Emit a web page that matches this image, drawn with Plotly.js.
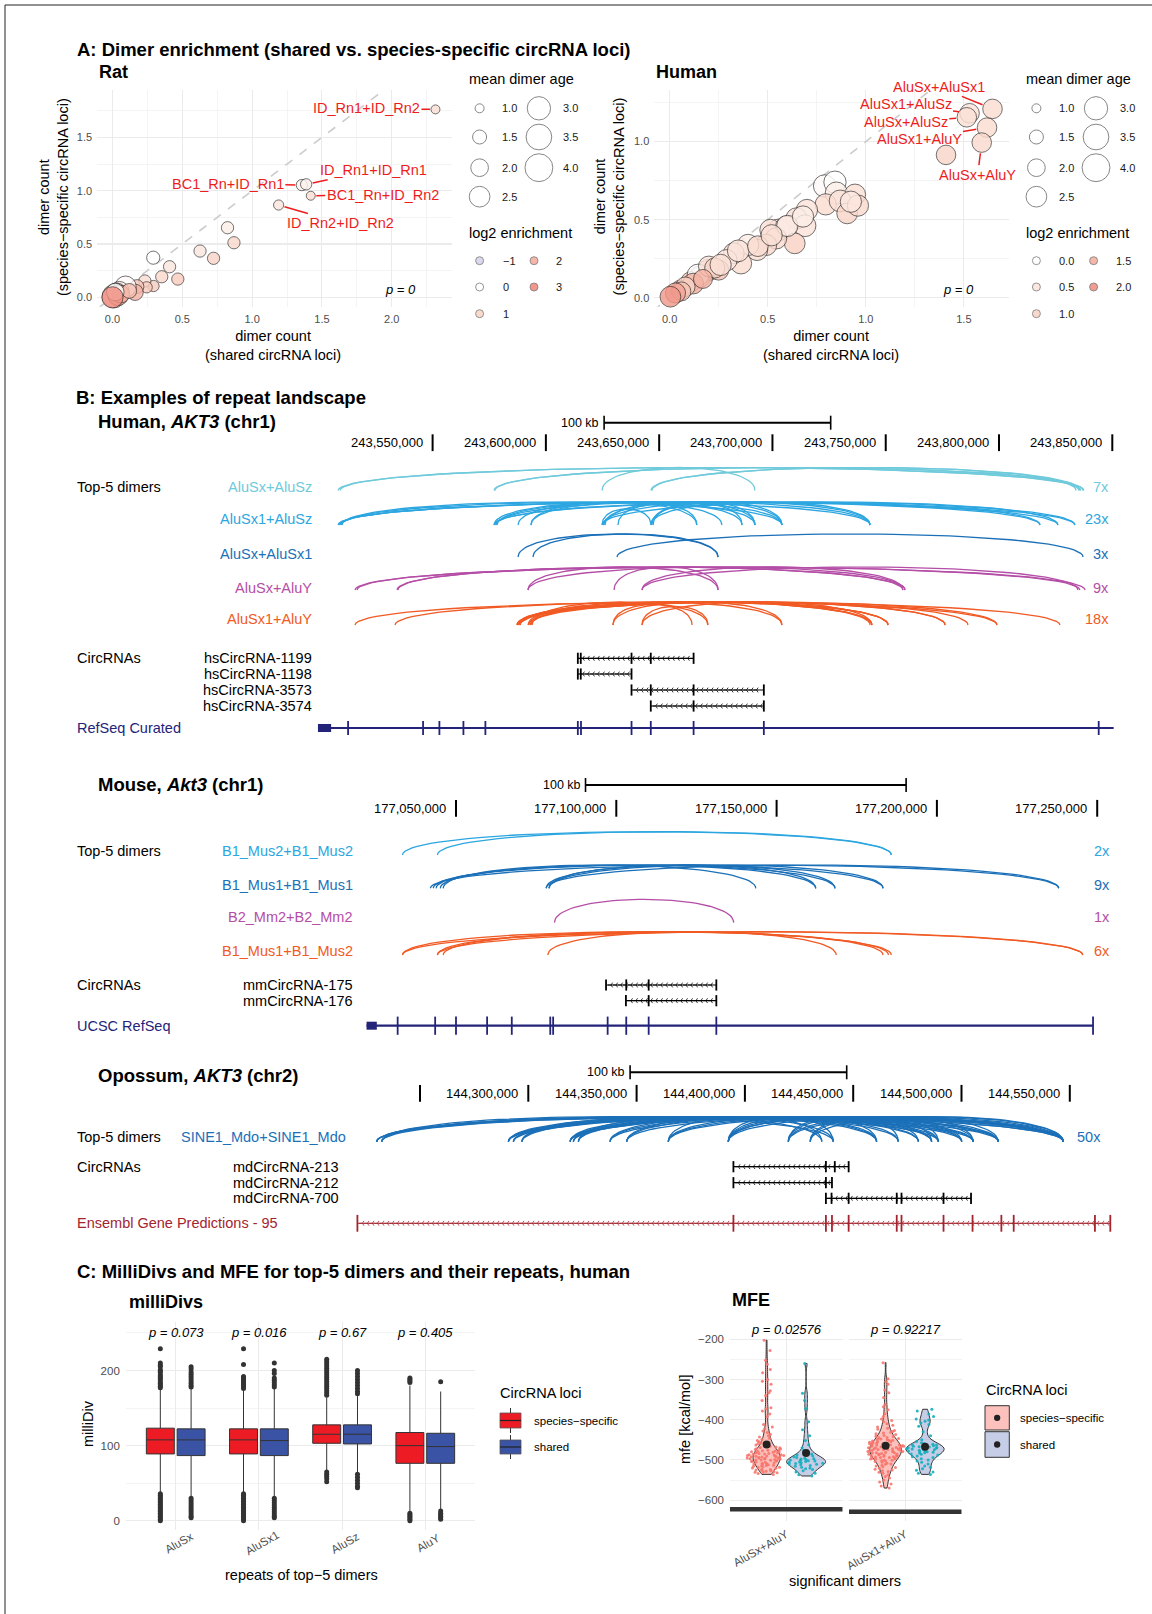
<!DOCTYPE html>
<html><head><meta charset="utf-8">
<script src="https://cdn.plot.ly/plotly-3.0.1.min.js"></script>
<style>html,body{margin:0;padding:0;background:#fff}#plot{width:1152px;height:1614px}</style>
</head><body><div id="plot"></div>
<script>
// ================= DATA =================
// ---- Panel A: Rat ----
const ratNames = ['ID_Rn1+ID_Rn2','BC1_Rn+ID_Rn1','ID_Rn1+ID_Rn1','BC1_Rn+ID_Rn2','ID_Rn2+ID_Rn2'];
const ratShared   = [2.313,1.356,1.387,1.420,1.190,0.824,0.870,0.627,0.724,0.292,0.409,0.353,0.468,0.294,0.232,0.245,0.175,0.162,0.094,0.050,0.030,0.020,0.010,0.040,0.060,0.120,0.020,0.000];
const ratSpecific = [1.763,1.053,1.060,0.953,0.866,0.653,0.512,0.434,0.366,0.372,0.287,0.193,0.171,0.106,0.153,0.094,0.100,0.047,0.100,0.060,0.040,0.020,0.010,0.020,0.030,0.060,0.050,0.000];
const ratAge      = [1.0,1.2,1.2,1.0,1.1,1.3,1.3,1.3,1.3,1.4,1.3,1.3,1.3,1.2,1.3,1.2,1.5,1.8,2.6,2.2,2.4,2.8,3.0,2.5,2.0,1.6,2.0,2.6];
const ratLog2     = [0.8,0.3,0.3,0.8,0.6,0.4,0.9,0.6,1.0,0.0,0.6,0.9,1.2,1.2,0.8,1.2,1.3,1.8,0.1,0.5,0.3,1.0,0.4,1.5,2.0,1.5,0.0,2.8];
const ratP = '0';
// ---- Panel A: Human ----
const humanNames = ['AluSx+AluSx1','AluSx1+AluSz','AluSx+AluSz','AluSx1+AluY','AluSx+AluY'];
const humanShared   = [1.646,1.529,1.515,1.618,1.591,1.409,0.790,0.843,0.850,0.945,0.796,0.869,0.905,0.960,0.924,0.700,0.647,0.690,0.556,0.514,0.594,0.638,0.543,0.492,0.446,0.400,0.364,0.327,0.290,0.199,0.250,0.154,0.109,0.055,0.145,0.200,0.230,0.120,0.080,0.060,0.170,0.260,0.350,0.450,0.600,0.520,0.680,0.030,0.004];
const humanSpecific = [1.210,1.182,1.156,1.090,0.994,0.915,0.716,0.740,0.670,0.660,0.598,0.620,0.540,0.590,0.615,0.562,0.508,0.461,0.434,0.434,0.455,0.348,0.380,0.338,0.306,0.338,0.220,0.285,0.240,0.177,0.177,0.134,0.102,0.049,0.145,0.200,0.190,0.090,0.070,0.040,0.120,0.210,0.300,0.330,0.460,0.400,0.520,0.030,0.006];
const humanAge      = [2.3,2.3,2.3,2.3,2.3,2.3,2.8,2.8,2.8,2.6,2.6,2.7,2.5,2.6,2.6,2.6,2.6,2.7,2.7,2.6,2.6,2.5,2.6,2.6,2.6,2.6,2.6,2.5,2.6,2.6,2.4,2.6,2.4,2.3,2.7,2.5,2.4,2.5,2.3,2.2,2.2,2.6,2.7,2.5,2.6,2.6,2.6,2.4,2.5];
const humanLog2     = [0.7,0.5,0.6,0.7,0.8,0.9,0.1,0.0,0.3,0.6,0.7,0.6,0.9,0.8,0.4,0.5,0.6,0.5,0.4,0.6,0.3,1.0,0.7,0.8,0.6,0.3,0.7,0.5,0.4,0.9,1.2,0.8,1.1,1.3,0.0,0.5,1.0,1.4,1.0,1.2,1.4,0.6,0.5,0.7,0.4,0.6,0.3,1.6,1.8];
const humanP = '0';
const ageLegend = [1.0,1.5,2.0,2.5,3.0,3.5,4.0];
const ratLog2Legend = [-1,0,1,2,3];
const humanLog2Legend = [0.0,0.5,1.0,1.5,2.0];

// ---- Panel B: Human AKT3 ----
const hsTicks = [243550000,243600000,243650000,243700000,243750000,243800000,243850000];
const hsScaleStart = 243625700;
const hsDimers = ['AluSx+AluSz','AluSx1+AluSz','AluSx+AluSx1','AluSx+AluY','AluSx1+AluY'];
const hsArcs_AluSx_AluSz = [[243508250,243836200],[243509100,243837500],[243577100,243835300],[243577500,243837100],[243624800,243692300],[243646800,243834000],[243646400,243835700]];
const hsArcs_AluSx1_AluSz = [[243508250,243833500],[243508700,243826000],[243509100,243818100],[243509600,243743100],[243510000,243704200],[243577100,243833500],[243577500,243818100],[243578000,243743100],[243578400,243704200],[243577100,243692300],[243587700,243677700],[243593400,243686600],[243593400,243666600],[243624800,243646400],[243625200,243743100],[243625600,243704200],[243626100,243692300],[243631800,243666600],[243646400,243704200],[243646800,243692300],[243647300,243686600],[243646400,243743100],[243624800,243826000]];
const hsArcs_AluSx_AluSx1 = [[243587700,243676000],[243594300,243676000],[243631400,243837100]];
const hsArcs_AluSx_AluY = [[243515750,243838000],[243516600,243835700],[243534300,243758500],[243534700,243757600],[243592100,243758500],[243592100,243676000],[243630100,243676000],[243642400,243834800],[243642400,243757600]];
const hsArcs_AluSx1_AluY = [[243515750,243826900],[243533400,243799100],[243587250,243743900],[243587700,243751000],[243588100,243776200],[243588600,243786300],[243587250,243799100],[243587700,243743100],[243592100,243704200],[243592500,243751000],[243593400,243743900],[243593900,243671500],[243629600,243664500],[243629600,243704200],[243642400,243671500],[243642400,243743900],[243588600,243751000],[243593000,243776200]];
const hsCircNames = ['hsCircRNA-1199','hsCircRNA-1198','hsCircRNA-3573','hsCircRNA-3574'];
const hsCircExons = [[243614100,243615400,243637800,243646300,243665200],[243614100,243615400,243637800],[243637800,243646300,243665200,243696200],[243646300,243665200,243696200]];
const hsGeneSpan = [243499400,243850600];
const hsGeneUTR = [243499400,243505200];
const hsGeneExons = [243512700,243545800,243553000,243563600,243573300,243614100,243615500,243637800,243646300,243665200,243696200,243844000];

// ---- Panel B: Mouse Akt3 ----
const mmTicks = [177050000,177100000,177150000,177200000,177250000];
const mmScaleStart = 177090400;
const mmDimers = ['B1_Mus2+B1_Mus2','B1_Mus1+B1_Mus1','B2_Mm2+B2_Mm2','B1_Mus1+B1_Mus2'];
const mmArcs_B1Mus2_B1Mus2 = [[177033300,177185800],[177044200,177185800]];
const mmArcs_B1Mus1_B1Mus1 = [[177042000,177238000],[177042900,177183200],[177043800,177168200],[177045100,177162200],[177046000,177143500],[177078100,177238000],[177079000,177183200],[177078100,177168200],[177079000,177162200]];
const mmArcs_B2Mm2_B2Mm2 = [[177080700,177136600]];
const mmArcs_B1Mus1_B1Mus2 = [[177033300,177245500],[177033300,177185800],[177044200,177184900],[177046000,177183200],[177078600,177168600],[177044200,177245500]];
const mmCircNames = ['mmCircRNA-175','mmCircRNA-176'];
const mmCircExons = [[177096800,177103100,177110100,177131200],[177103000,177110100,177131200]];
const mmGeneSpan = [177022100,177248700];
const mmGeneUTR = [177022100,177025300];
const mmGeneExons = [177031800,177043500,177050000,177059700,177067400,177079400,177080300,177097300,177103100,177110100,177131200,177248700];

// ---- Panel B: Opossum AKT3 ----
const mdTicks = [144250000,144300000,144350000,144400000,144450000,144500000,144550000];
const mdTickLabels = ['','144,300,000','144,350,000','144,400,000','144,450,000','144,500,000','144,550,000'];
const mdScaleStart = 144347000;
const mdDimers = ['SINE1_Mdo+SINE1_Mdo'];
const mdArcs_SINE1_SINE1 = [
 [144230000,144547000],[144230000,144517000],[144230000,144505400],[144230000,144500100],
 [144232300,144547000],[144232300,144489300],[144232300,144440800],
 [144290800,144547000],[144290800,144517000],[144290800,144486200],[144290800,144460800],
 [144293100,144547000],[144293100,144505400],[144293100,144480100],
 [144297000,144500100],[144297000,144470800],[144297000,144435500],
 [144319300,144547000],[144319300,144517000],[144319300,144489300],[144319300,144460800],
 [144320800,144547000],[144320800,144505400],[144320800,144486200],
 [144323100,144517000],[144323100,144480100],[144323100,144440800],
 [144337700,144547000],[144337700,144500100],[144337700,144470800],
 [144345400,144547000],[144345400,144486200],[144345400,144460800],
 [144364600,144547000],[144364600,144517000],[144364600,144489300],[144364600,144435500],
 [144392300,144547000],[144392300,144505400],[144392300,144500100],[144392300,144480100],[144392300,144460800],[144392300,144440800],
 [144420000,144547000],[144420000,144517000],[144420000,144486200],[144420000,144470800],
 [144430100,144547000],[144430100,144505400],[144430100,144489300]];
const mdCircNames = ['mdCircRNA-213','mdCircRNA-212','mdCircRNA-700'];
const mdCircExons = [[144394700,144437400,144441500,144447900],[144394700,144437400,144440200],[144437400,144440000,144447900,144470100,144472300,144491700,144504400]];
const mdGeneSpan = [144221100,144568700];
const mdGeneExons = [144221100,144394700,144437400,144440200,144447900,144470100,144472300,144491700,144505100,144518400,144524100,144561600,144568700];

// ---- Panel C: milliDivs ----
const repeatNames = ['AluSx','AluSx1','AluSz','AluY'];
const milliSpecQ1  = [88.9,88.9,103.1,76.4];
const milliSpecMed = [107.6,107.6,115.1,100.0];
const milliSpecQ3  = [123.2,122.3,127.6,117.4];
const milliSpecLo  = [38,37,67,13];
const milliSpecHi  = [175,174,164,180];
const milliSharedQ1  = [86.7,86.7,102.2,76.4];
const milliSharedMed = [107.6,106.7,115.1,98.7];
const milliSharedQ3  = [122.3,122.3,127.6,116.4];
const milliSharedLo  = [31,31,64,15];
const milliSharedHi  = [176,176,166,172];
const milliSpecOutliers = [
 [229,210,207,205,201,199,197,194,192,190,188,185,183,181,179,177,36,34,32,30,28,26,24,22,20,18,16,14,12,10,8,6,4,2,0],
 [229,208,192,190,188,186,184,182,180,178,176,36,34,32,30,28,26,24,22,20,18,16,14,12,10,8,6,4,2,0],
 [215,212,209,206,203,200,197,194,191,188,185,182,179,176,173,170,167,65,62,59,56,52],
 [190,188,186,184,10,8,6,4,2,0]];
const milliSharedOutliers = [
 [205,202,198,195,192,189,186,183,180,178,30,27,24,21,18,15,12,9,6,4],
 [210,200,196,190,187,184,181,178,30,27,24,21,18,15,12,9,6,4],
 [200,196,192,188,184,180,176,172,169,62,58,54,50,46,44],
 [185,13,10,8,6,4,2]];
const milliP = ['0.073','0.016','0.67','0.405'];

// ---- Panel C: MFE ----
const mfeDimers = ['AluSx+AluY','AluSx1+AluY'];
const mfeP = ['0.02576','0.92217'];
const mfeBarY = [-623,-629];
const mfeSpec1 = [-202,-228,-252,-262,-275,-283,-300,-304,-312,-328,-333,-340,-352,-370,-373,-378,-386,-392,
 -412,-418,-423,-428,-432,-436,-440,-443,-446,-449,-452,-455,-457,-459,-461,-463,-465,-466,-468,-469,-470,-472,-473,-474,-475,-476,-477,-478,-479,-480,-480,-481,-482,-483,-484,-484,-485,-486,-487,-487,-488,-489,-489,-490,-490,-491,-492,-492,-493,-493,-494,-495,-495,-496,-496,-497,-498,-498,-499,-500,-500,-501,-502,-503,-503,-504,-505,-506,-507,-508,-509,-510,-511,-512,-513,-514,-515,-516,-517,-518,-519,-520,-521,-523,-524,-525,-526,-527,-528,-529,-530,-531,-532,-534,-536];
const mfeShared1 = [-260,-334,-352,-372,-405,-425,-440,-452,-462,-470,-476,-481,-485,-488,-490,-492,-494,-496,-497,-498,-499,-500,-501,-502,-503,-504,-505,-506,-507,-508,-509,-510,-511,-512,-514,-516,-518,-520,-522,-524,-527,-530,-533,-537,-540];
const mfeSpec2 = [-258,-298,-305,-312,-326,-333,-345,-362,-368,-375,-385,-392,-398,-402,
 -405,-410,-414,-418,-421,-424,-427,-429,-431,-433,-435,-437,-439,-441,-442,-444,-445,-447,-448,-449,-450,-451,-452,-453,-454,-455,-456,-457,-458,-459,-460,-460,-461,-462,-463,-463,-464,-465,-466,-466,-467,-468,-468,-469,-470,-470,-471,-472,-472,-473,-474,-474,-475,-476,-476,-477,-478,-479,-479,-480,-481,-482,-482,-483,-484,-485,-486,-486,-487,-488,-489,-490,-490,-491,-492,-493,-494,-494,-495,-496,-497,-498,-498,-500,-501,-502,-503,-504,-506,-508,-510,-511,-513,-515,-517,-519,-521,-523,-525,-527,-529,-531,-533,
 -537,-541,-545,-550,-555,-560,-565,-570];
const mfeShared2 = [-374,-378,-386,-392,-398,-401,-404,-408,-412,-416,-430,-440,-450,-454,-457,-459,-461,-462,-463,-464,-465,-466,-467,-468,-469,-470,-471,-472,-473,-474,-475,-476,-477,-478,-479,-480,-481,-482,-483,-485,-486,-488,-490,-492,-494,-497,-500,-503,-506,-510,-515,-518,-522,-526,-530,-533,-536];

// ================= STYLE / BUILD =================
const W = 1152, H = 1614;
const PX = x => x / W, PY = y => 1 - y / H;
const FONT = "'Liberation Sans', Arial, Helvetica, sans-serif";
const traces = [], ann = [], shapes = [];
function T(text, x, y, o = {}) {
  return Object.assign({text, x: PX(x), y: PY(y), xref: 'paper', yref: 'paper', showarrow: false,
    xanchor: o.xa || 'left', yanchor: 'middle', textangle: o.angle || 0,
    font: {size: o.size || 14, color: o.color || '#000', family: FONT}}, o.extra || {});
}
const ageToD = a => Math.sqrt(232 * a - 151);
const ratScale = [[0,'#D8D1EA'],[0.25,'#FFFFFF'],[0.5,'#F9D4C7'],[0.75,'#F4AA9B'],[1,'#EF8679']];
const humanScale = [[0,'#FFFFFF'],[0.25,'#FCE4DB'],[0.5,'#F9D3C5'],[0.75,'#F4AB9C'],[1,'#EF8C7F']];
const RED = '#EE1D1D';
const tickMarker = (col, size, w) => ({symbol:'line-ns-open', size, color:col, line:{color:col, width:w}});

// ---- Panel A scatter ----
function scatterPanel(xa, ya, xs, ys, ages, l2, scale, cmin, cmax, diagMax) {
  traces.push({type:'scatter', mode:'lines', xaxis:xa, yaxis:ya, x:[-0.3, diagMax], y:[-0.3, diagMax],
    line:{color:'#CCCCCC', width:1.6, dash:'dash'}, hoverinfo:'skip'});
  traces.push({type:'scatter', mode:'markers', xaxis:xa, yaxis:ya, x:xs, y:ys,
    marker:{size:ages.map(ageToD), color:l2, colorscale:scale, cmin, cmax, opacity:0.82,
      line:{color:'rgba(30,30,30,0.75)', width:1}}, hoverinfo:'skip', cliponaxis:false});
}
scatterPanel('x','y', ratShared, ratSpecific, ratAge, ratLog2, ratScale, -1, 3, 2.5);
scatterPanel('x2','y2', humanShared, humanSpecific, humanAge, humanLog2, humanScale, 0, 2, 1.5);

const ratLabelOff = [[-69,-1],[-74,-1],[67,-14],[72,-1],[62,18]];
ratNames.forEach((n,i) => ann.push({text:n, xref:'x', yref:'y', x:ratShared[i], y:ratSpecific[i], ax:ratLabelOff[i][0], ay:ratLabelOff[i][1],
  showarrow:true, arrowhead:0, arrowwidth:1.5, arrowcolor:RED, standoff:ageToD(ratAge[i])/2+1, xanchor:'center', yanchor:'middle',
  font:{size:14.5, color:RED, family:FONT}}));
const humanLabelOff = [[-54,-22],[-64,-9],[-61,5],[-68,11],[-4,32]];
humanNames.forEach((n,i) => ann.push({text:n, xref:'x2', yref:'y2', x:humanShared[i], y:humanSpecific[i], ax:humanLabelOff[i][0], ay:humanLabelOff[i][1],
  showarrow:true, arrowhead:0, arrowwidth:1.5, arrowcolor:RED, standoff:ageToD(humanAge[i])/2+1, xanchor:'center', yanchor:'middle',
  font:{size:14.5, color:RED, family:FONT}}));

ann.push(T('<b>A: Dimer enrichment (shared vs. species-specific circRNA loci)</b>', 75, 49, {size:18.5}));
ann.push(T('<b>Rat</b>', 97, 72, {size:18}));
ann.push(T('<b>Human</b>', 654, 72, {size:18}));
ann.push(T('dimer count<br>(species\u2212specific circRNA loci)', 53.4, 196.7, {xa:'center', angle:-90, size:14.5}));
ann.push(T('dimer count<br>(shared circRNA loci)', 273, 345.5, {xa:'center', size:14.5}));
ann.push(T('dimer count<br>(species\u2212specific circRNA loci)', 609.7, 196.7, {xa:'center', angle:-90, size:14.5}));
ann.push(T('dimer count<br>(shared circRNA loci)', 830.5, 345.5, {xa:'center', size:14.5}));
ann.push(T('<i>p = ' + ratP + '</i>', 400, 289, {xa:'center', size:13}));
ann.push(T('<i>p = ' + humanP + '</i>', 958, 289, {xa:'center', size:13}));

function legendsA(left, ageCol, ageLab, l2Col, l2Lab, l2Vals, l2Text, scale, cmin, cmax) {
  const ageRows = [108.3, 137, 167.7, 196.7], l2Rows = [260.7, 287, 313.7];
  ann.push(T('mean dimer age', left, 79.3, {size:14.5}));
  ann.push(T('log2 enrichment', left, 233.3, {size:14.5}));
  const ax = [], ay = [], as = [];
  ageLegend.forEach((a,i) => { const c = i < 4 ? 0 : 1, r = i < 4 ? i : i - 4;
    ax.push(ageCol[c]); ay.push(ageRows[r]); as.push(ageToD(a));
    ann.push(T(a.toFixed(1), ageLab[c], ageRows[r], {size:11, color:'#1a1a1a'})); });
  traces.push({type:'scatter', mode:'markers', xaxis:'x3', yaxis:'y3', x:ax, y:ay,
    marker:{size:as, color:'rgba(255,255,255,0)', line:{color:'#555', width:1}}, hoverinfo:'skip'});
  const lx = [], ly = [];
  l2Vals.forEach((v,i) => { const c = i < 3 ? 0 : 1, r = i < 3 ? i : i - 3;
    lx.push(l2Col[c]); ly.push(l2Rows[r]);
    ann.push(T(l2Text[i], l2Lab[c], l2Rows[r], {size:11, color:'#1a1a1a'})); });
  traces.push({type:'scatter', mode:'markers', xaxis:'x3', yaxis:'y3', x:lx, y:ly,
    marker:{size:8, color:l2Vals, colorscale:scale, cmin, cmax, opacity:0.85, line:{color:'#666', width:0.8}}, hoverinfo:'skip'});
}
legendsA(467, [479.6,538.9], [500,561], [479.6,534], [500.7,554], ratLog2Legend, ['\u22121','0','1','2','3'], ratScale, -1, 3);
legendsA(1024, [1036.4,1096], [1057,1118], [1036.4,1093.6], [1057,1114], humanLog2Legend, ['0.0','0.5','1.0','1.5','2.0'], humanScale, 0, 2);

// ---- Panel B browsers ----
const fmt = v => v.toLocaleString('en-US');
function addBrowser(c) {
  const ppb = 820 / (c.range[1] - c.range[0]);
  ann.push(T(c.title, 95.8, c.titleY, {size:18.5}));
  traces.push({type:'scatter', mode:'lines+markers', xaxis:c.axis, yaxis:'y3', x:[c.scaleStart, c.scaleStart + 100000], y:[c.scaleY, c.scaleY],
    line:{color:'#000', width:2}, marker:tickMarker('#000', 10, 1.6), hoverinfo:'skip'});
  ann.push({text:'100 kb', xref:c.axis, yref:'paper', x:c.scaleStart, y:PY(c.scaleY), xanchor:'right', yanchor:'middle', xshift:-3, showarrow:false, font:{size:12.5, family:FONT, color:'#000'}});
  traces.push({type:'scatter', mode:'markers', xaxis:c.axis, yaxis:'y3', x:c.ticks, y:c.ticks.map(() => c.tickY),
    marker:tickMarker('#000', 12, 2), hoverinfo:'skip'});
  c.ticks.forEach((t,i) => { const lab = c.tickLabels[i]; if (lab) ann.push({text:lab, xref:c.axis, yref:'paper', x:t, y:PY(c.tickY), xanchor:'right', yanchor:'middle', xshift:-8, showarrow:false, font:{size:13, family:FONT, color:'#000'}}); });
  ann.push(T('Top-5 dimers', 75, c.rows[0].labelY, {size:14.5}));
  c.rows.forEach(r => {
    const xs = [], ys = [];
    r.arcs.forEach(([s,e]) => {
      const h = c.Hmax * Math.min(1, Math.sqrt((e - s) * ppb / 100));
      for (let i = 0; i <= 48; i++) { const t = i / 48; xs.push(s + (e - s) * (3*t*t - 2*t*t*t)); ys.push(r.baseY - 4 * h * t * (1 - t)); }
      xs.push(null); ys.push(null);
    });
    traces.push({type:'scatter', mode:'lines', xaxis:c.axis, yaxis:'y3', x:xs, y:ys, line:{color:r.color, width:1.3}, hoverinfo:'skip', connectgaps:false});
    ann.push(T(r.name, c.rowRight, r.labelY, {xa:'right', size:14.5, color:r.color}));
    ann.push(T(r.arcs.length + 'x', c.countRight, r.labelY, {xa:'right', size:14.5, color:r.color}));
  });
  ann.push(T('CircRNAs', 75, c.circY[0], {size:14.5}));
  c.circNames.forEach((n,i) => {
    const ex = c.circExons[i], y = c.circY[i];
    ann.push(T(n, c.circRight, y, {xa:'right', size:14.5}));
    traces.push({type:'scatter', mode:'lines', xaxis:c.axis, yaxis:'y3', x:[ex[0], ex[ex.length-1]], y:[y, y], line:{color:'#000', width:1.2}, hoverinfo:'skip'});
    const step = 5 / ppb, cx = [];
    for (let p = ex[0] + step; p < ex[ex.length-1] - step/2; p += step) cx.push(p);
    traces.push({type:'scatter', mode:'markers', xaxis:c.axis, yaxis:'y3', x:cx, y:cx.map(() => y), marker:{symbol:'y-left', size:4, color:'#000', line:{color:'#000', width:0.8}}, hoverinfo:'skip'});
    traces.push({type:'scatter', mode:'markers', xaxis:c.axis, yaxis:'y3', x:ex, y:ex.map(() => y), marker:tickMarker('#000', 8, 1.8), hoverinfo:'skip'});
  });
  const g = c.gene;
  ann.push(T(g.label, 75, g.y, {size:14.5, color:g.color}));
  traces.push({type:'scatter', mode:'lines', xaxis:c.axis, yaxis:'y3', x:g.span, y:[g.y, g.y], line:{color:g.color, width:g.lw}, hoverinfo:'skip'});
  if (g.utr) traces.push({type:'scatter', mode:'lines', xaxis:c.axis, yaxis:'y3', x:g.utr, y:[g.y, g.y], line:{color:g.color, width:8}, hoverinfo:'skip'});
  if (g.chevrons) {
    const step = 5 / ppb, cx = [];
    for (let p = g.span[0] + step; p < g.span[1]; p += step) cx.push(p);
    traces.push({type:'scatter', mode:'markers', xaxis:c.axis, yaxis:'y3', x:cx, y:cx.map(() => g.y), marker:{symbol:'y-left', size:4, color:g.color, line:{color:g.color, width:0.8}}, hoverinfo:'skip'});
  }
  traces.push({type:'scatter', mode:'markers', xaxis:c.axis, yaxis:'y3', x:g.exons, y:g.exons.map(() => g.y), marker:tickMarker(g.color, g.exH, 1.8), hoverinfo:'skip'});
}
const NAVY = '#23237A';
addBrowser({axis:'x4', range:[243491475,243853398], title:'<b>Human, <i>AKT3</i> (chr1)</b>', titleY:421.7,
  scaleStart:hsScaleStart, scaleY:422.7, ticks:hsTicks, tickLabels:hsTicks.map(fmt), tickY:442.7, Hmax:23, rowRight:314, countRight:1111,
  rows:[{name:hsDimers[0], arcs:hsArcs_AluSx_AluSz, color:'#6FCADB', labelY:487.3, baseY:490.5},
        {name:hsDimers[1], arcs:hsArcs_AluSx1_AluSz, color:'#2CA6E0', labelY:519.3, baseY:525},
        {name:hsDimers[2], arcs:hsArcs_AluSx_AluSx1, color:'#1B70B8', labelY:554, baseY:557},
        {name:hsDimers[3], arcs:hsArcs_AluSx_AluY, color:'#B44EA6', labelY:587.7, baseY:590},
        {name:hsDimers[4], arcs:hsArcs_AluSx1_AluY, color:'#F15A24', labelY:619.3, baseY:625}],
  circNames:hsCircNames, circExons:hsCircExons, circY:[658.3,674,690,706], circRight:314,
  gene:{label:'RefSeq Curated', y:728, color:NAVY, span:hsGeneSpan, utr:hsGeneUTR, exons:hsGeneExons, lw:2.2, exH:10}});
addBrowser({axis:'x5', range:[177001341,177257112], title:'<b>Mouse, <i>Akt3</i> (chr1)</b>', titleY:784,
  scaleStart:mmScaleStart, scaleY:785, ticks:mmTicks, tickLabels:mmTicks.map(fmt), tickY:808.3, Hmax:23.3, rowRight:355, countRight:1112,
  rows:[{name:mmDimers[0], arcs:mmArcs_B1Mus2_B1Mus2, color:'#2CA6E0', labelY:850.7, baseY:855},
        {name:mmDimers[1], arcs:mmArcs_B1Mus1_B1Mus1, color:'#1B70B8', labelY:884.7, baseY:888.3},
        {name:mmDimers[2], arcs:mmArcs_B2Mm2_B2Mm2, color:'#B44EA6', labelY:916.7, baseY:922.7},
        {name:mmDimers[3], arcs:mmArcs_B1Mus1_B1Mus2, color:'#F15A24', labelY:950.7, baseY:955}],
  circNames:mmCircNames, circExons:mmCircExons, circY:[985,1000.7], circRight:355,
  gene:{label:'UCSC RefSeq', y:1025.7, color:NAVY, span:mmGeneSpan, utr:mmGeneUTR, exons:mmGeneExons, lw:2.2, exH:13}});
addBrowser({axis:'x6', range:[144194598,144573176], title:'<b>Opossum, <i>AKT3</i> (chr2)</b>', titleY:1075,
  scaleStart:mdScaleStart, scaleY:1072.3, ticks:mdTicks, tickLabels:mdTickLabels, tickY:1093.3, Hmax:25, rowRight:348, countRight:1103.4,
  rows:[{name:mdDimers[0], arcs:mdArcs_SINE1_SINE1, color:'#1B70B8', labelY:1137.3, baseY:1141.7}],
  circNames:mdCircNames, circExons:mdCircExons, circY:[1166.7,1182.7,1198.3], circRight:341,
  gene:{label:'Ensembl Gene Predictions - 95', y:1223.3, color:'#A3242F', span:mdGeneSpan, exons:mdGeneExons, lw:1, exH:12, chevrons:true}});
ann.push(T('<b>B: Examples of repeat landscape</b>', 74, 397, {size:18.5}));

// ---- Panel C: milliDivs boxplot ----
const SPEC_RED = '#ED1C24', SHARED_BLUE = '#3A53A4', DODGE = 0.185;
[[milliSpecQ1,milliSpecMed,milliSpecQ3,milliSpecLo,milliSpecHi,milliSpecOutliers,SPEC_RED,-DODGE],
 [milliSharedQ1,milliSharedMed,milliSharedQ3,milliSharedLo,milliSharedHi,milliSharedOutliers,SHARED_BLUE,DODGE]].forEach(([q1,md,q3,lo,hi,out,col,d]) => {
  traces.push({type:'box', xaxis:'x7', yaxis:'y7', x:repeatNames.map((_,i) => i + d), q1, median:md, q3, lowerfence:lo, upperfence:hi,
    width:0.336, fillcolor:col, line:{color:'#333333', width:1}, whiskerwidth:0, boxpoints:false, hoverinfo:'skip'});
  const ox = [], oy = [];
  out.forEach((arr,i) => arr.forEach(v => { ox.push(i + d); oy.push(v); }));
  traces.push({type:'scatter', mode:'markers', xaxis:'x7', yaxis:'y7', x:ox, y:oy, marker:{color:'#333333', size:5}, hoverinfo:'skip'});
});
milliP.forEach((p,i) => ann.push({text:'<i>p = ' + p + '</i>', xref:'x7', yref:'paper', x:i, y:PY(1332.7), showarrow:false, xanchor:'center', yanchor:'middle', font:{size:13, family:FONT, color:'#000'}}));
repeatNames.forEach((n,i) => ann.push({text:n, xref:'x7', yref:'paper', x:i, y:PY(1543), xshift:3, showarrow:false, textangle:-30, xanchor:'center', yanchor:'middle', font:{size:11.5, family:FONT, color:'#4D4D4D'}}));
ann.push(T('<b>C: MilliDivs and MFE for top-5 dimers and their repeats, human</b>', 74.5, 1271.7, {size:18.5}));
ann.push(T('<b>milliDivs</b>', 127, 1301.7, {size:18}));
ann.push(T('milliDiv', 88.7, 1423.3, {xa:'center', angle:-90, size:14.5}));
ann.push(T('repeats of top\u22125 dimers', 301, 1575, {xa:'center', size:14.5}));
ann.push(T('CircRNA loci', 498.2, 1393.3, {size:14.5}));
ann.push(T('species\u2212specific', 531.5, 1421, {size:11.5}));
ann.push(T('shared', 531.5, 1446.7, {size:11.5}));
[[1413,1428,SPEC_RED],[1440,1454,SHARED_BLUE]].forEach(([y0,y1,col]) => {
  const m = (y0 + y1) / 2;
  shapes.push({type:'line', xref:'paper', yref:'paper', x0:PX(510.5), x1:PX(510.5), y0:PY(y0-5), y1:PY(y1+5), line:{color:'#333', width:1}});
  shapes.push({type:'rect', xref:'paper', yref:'paper', x0:PX(500), x1:PX(521), y0:PY(y1), y1:PY(y0), fillcolor:col, line:{color:'#555', width:0.8}});
  shapes.push({type:'line', xref:'paper', yref:'paper', x0:PX(500), x1:PX(521), y0:PY(m), y1:PY(m), line:{color:'#222', width:1.2}});
});

// ---- Panel C: MFE violins ----
function nrd0(a) {
  const n = a.length, m = a.reduce((s,v) => s + v, 0) / n;
  const sd = Math.sqrt(a.reduce((s,v) => s + (v - m) ** 2, 0) / (n - 1));
  const s = [...a].sort((p,q) => p - q);
  const q = p => { const h = (n - 1) * p, l = Math.floor(h); return s[l] + (h - l) * (s[Math.min(l + 1, n - 1)] - s[l]); };
  return 0.9 * Math.min(sd, (q(0.75) - q(0.25)) / 1.34) * Math.pow(n, -0.2);
}
const mean = a => a.reduce((s,v) => s + v, 0) / a.length;
const VD = 0.21;
const violins = [
  {d:mfeSpec1, ax:'x8', pos:-VD, w:0.29, fill:'rgba(248,118,109,0.45)', pt:'#F8766D'},
  {d:mfeShared1, ax:'x8', pos:VD, w:0.415, fill:'rgba(120,135,195,0.42)', pt:'#12AFBE'},
  {d:mfeSpec2, ax:'x9', pos:-VD, w:0.34, fill:'rgba(248,118,109,0.45)', pt:'#F8766D'},
  {d:mfeShared2, ax:'x9', pos:VD, w:0.405, fill:'rgba(120,135,195,0.42)', pt:'#12AFBE'}];
violins.forEach(v => {
  const bw = nrd0(v.d);
  traces.push({type:'violin', xaxis:v.ax, yaxis:'y8', x0:v.pos, y:v.d, width:v.w, bandwidth:bw, spanmode:'hard',
    scalemode:'width', points:false, fillcolor:v.fill,
    line:{color:'#333333', width:1}, box:{visible:false}, meanline:{visible:false}, hoverinfo:'skip'});
  // jittered sample points drawn by a second, invisible, wider violin of the same data
  traces.push({type:'violin', xaxis:v.ax, yaxis:'y8', x0:v.pos, y:v.d, width:0.42, bandwidth:bw * 1.6, spanmode:'hard',
    scalemode:'width', points:'all', jitter:1, pointpos:0, marker:{color:v.pt, size:3, opacity:0.9}, fillcolor:'rgba(0,0,0,0)',
    line:{color:'rgba(0,0,0,0)', width:0}, box:{visible:false}, meanline:{visible:false}, hoverinfo:'skip', hoveron:'points'});
});
['x8','x9'].forEach((ax,k) => {
  const vs = violins.filter(v => v.ax === ax);
  traces.push({type:'scatter', mode:'markers', xaxis:ax, yaxis:'y8', x:vs.map(v => v.pos), y:vs.map(v => mean(v.d)), marker:{color:'#222', size:8}, hoverinfo:'skip'});
  traces.push({type:'scatter', mode:'lines', xaxis:ax, yaxis:'y8', x:[-0.6,0.6], y:[mfeBarY[k], mfeBarY[k]], line:{color:'#333', width:4.5}, hoverinfo:'skip'});
  ann.push({text:'<i>p = ' + mfeP[k] + '</i>', xref:ax, yref:'paper', x:0, y:PY(1329), showarrow:false, xanchor:'center', yanchor:'middle', font:{size:13, family:FONT, color:'#000'}});
});
ann.push(T('<b>MFE</b>', 730, 1300, {size:18}));
ann.push(T('mfe [kcal/mol]', 685, 1420, {xa:'center', angle:-90, size:14.5}));
ann.push(T('significant dimers', 845, 1581, {xa:'center', size:14.5}));
ann.push(T('CircRNA loci', 984, 1390, {size:14.5}));
ann.push(T('species\u2212specific', 1017.7, 1418.3, {size:11.5}));
ann.push(T('shared', 1017.7, 1445, {size:11.5}));
[[1405.7,1430,'rgba(248,118,109,0.45)'],[1431.7,1457.3,'rgba(120,135,195,0.42)']].forEach(([y0,y1,col]) => {
  shapes.push({type:'rect', xref:'paper', yref:'paper', x0:PX(985), x1:PX(1009.3), y0:PY(y1), y1:PY(y0), fillcolor:col, line:{color:'#333', width:1}});
  const m = (y0 + y1) / 2;
  shapes.push({type:'circle', xref:'paper', yref:'paper', x0:PX(994), x1:PX(1000.3), y0:PY(m + 3.2), y1:PY(m - 3.2), fillcolor:'#222', line:{width:0}});
});

// page frame
shapes.push({type:'line', xref:'paper', yref:'paper', x0:PX(5), x1:1, y0:PY(5), y1:PY(5), line:{color:'#222', width:1}});
shapes.push({type:'line', xref:'paper', yref:'paper', x0:PX(5), x1:PX(5), y0:PY(5), y1:0, line:{color:'#222', width:1}});

// ================= LAYOUT =================
const GRID = {showline:false, zeroline:false, ticks:'', gridcolor:'#EBEBEB', gridwidth:1.1,
  tickfont:{size:11, color:'#4D4D4D', family:FONT}, ticklabelstandoff:4, fixedrange:true};
const MINOR = d => ({dtick:d, showgrid:true, gridcolor:'#EBEBEB', gridwidth:0.55, ticks:''});
const hidden = {visible:false, fixedrange:true};
const gDom = [PX(300), PX(1120)];
const layout = {
  width:W, height:H, margin:{l:0, r:0, t:0, b:0}, paper_bgcolor:'#fff', plot_bgcolor:'rgba(0,0,0,0)',
  showlegend:false, hovermode:false, font:{family:FONT, color:'#000'},
  xaxis: Object.assign({}, GRID, {domain:[PX(97.1), PX(451.8)], range:[-0.11, 2.43], anchor:'y', tick0:0, dtick:0.5, tickformat:'.1f', minor:MINOR(0.25)}),
  yaxis: Object.assign({}, GRID, {domain:[PY(306.7), PY(90)], range:[-0.088, 1.945], anchor:'x', tick0:0, dtick:0.5, tickformat:'.1f', minor:MINOR(0.25)}),
  xaxis2: Object.assign({}, GRID, {domain:[PX(654.3), PX(1008.6)], range:[-0.078, 1.728], anchor:'y2', tick0:0, dtick:0.5, tickformat:'.1f', minor:MINOR(0.25)}),
  yaxis2: Object.assign({}, GRID, {domain:[PY(306.7), PY(90)], range:[-0.058, 1.331], anchor:'x2', tick0:0, dtick:0.5, tickformat:'.1f', minor:MINOR(0.25)}),
  xaxis3: Object.assign({}, hidden, {domain:[0,1], range:[0, W], anchor:'y3'}),
  yaxis3: Object.assign({}, hidden, {domain:[0,1], range:[H, 0], anchor:'x3'}),
  xaxis4: Object.assign({}, hidden, {domain:gDom, range:[243491475, 243853398], anchor:'y3'}),
  xaxis5: Object.assign({}, hidden, {domain:gDom, range:[177001341, 177257112], anchor:'y3'}),
  xaxis6: Object.assign({}, hidden, {domain:gDom, range:[144194598, 144573176], anchor:'y3'}),
  xaxis7: Object.assign({}, GRID, {domain:[PX(125.8), PX(475.2)], range:[-0.6, 3.6], anchor:'y7', tickvals:[0,1,2,3], showticklabels:false}),
  yaxis7: Object.assign({}, GRID, {domain:[PY(1530), PY(1321.7)], range:[-12.4, 265], anchor:'x7', tick0:0, dtick:100, minor:MINOR(50), tickfont:{size:11.5, color:'#4D4D4D', family:FONT}, ticklabelstandoff:5}),
  xaxis8: Object.assign({}, GRID, {domain:[PX(730), PX(842.7)], range:[-0.6, 0.6], anchor:'y8', tickvals:[0], ticktext:[mfeDimers[0]], tickangle:-30, tickfont:{size:11.5, color:'#4D4D4D', family:FONT}}),
  xaxis9: Object.assign({}, GRID, {domain:[PX(849), PX(961.7)], range:[-0.6, 0.6], anchor:'y8', tickvals:[0], ticktext:[mfeDimers[1]], tickangle:-30, tickfont:{size:11.5, color:'#4D4D4D', family:FONT}}),
  yaxis8: Object.assign({}, GRID, {domain:[PY(1520.8), PY(1330.7)], range:[-651.5, -178.5], anchor:'x8', tick0:0, dtick:100, minor:MINOR(50), tickfont:{size:11.5, color:'#4D4D4D', family:FONT}, ticklabelstandoff:5}),
  annotations: ann, shapes: shapes
};
Plotly.newPlot('plot', traces, layout, {staticPlot:true, displayModeBar:false});
</script></body></html>
